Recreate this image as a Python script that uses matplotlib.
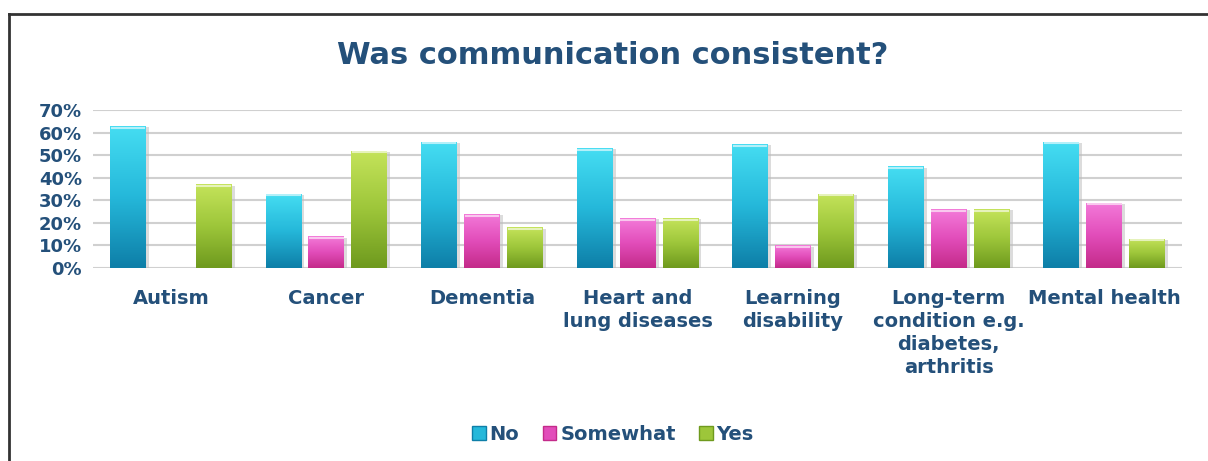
import numpy as np
import matplotlib.pyplot as plt
from matplotlib.lines import Line2D
from matplotlib.patches import Patch

# Data
categories = ["Autism", "Cancer", "Dementia", "Heart and\nlung diseases",
              "Learning\ndisability", "Long-term\ncondition e.g.\ndiabetes,\narthritis",
              "Mental health"]
series = ["No", "Somewhat", "Yes"]
no_vals = [63, 33, 56, 53, 55, 45, 56]
somewhat_vals = [0, 14, 24, 22, 10, 26, 29]
yes_vals = [37, 52, 18, 22, 33, 26, 13]
yticks = [0, 10, 20, 30, 40, 50, 60, 70]

text_color = "#24507A"
light = ["#45DDF2", "#F37AD9", "#C4E35A"]
dark = ["#0E7FA8", "#C42B8A", "#6F9A1E"]
base = ["#25B8DA", "#E24DBA", "#9DC63A"]

fig = plt.figure(figsize=(12.08, 4.61), dpi=100)
ax = fig.add_axes([93 / 1208, 1 - 268 / 461, (1182 - 93) / 1208, (268 - 110) / 461])

x = np.arange(len(categories))
width = 0.23
step = 0.276
values = [no_vals, somewhat_vals, yes_vals]

grad = np.linspace(0, 1, 64).reshape(-1, 1)
for i, vals in enumerate(values):
    bars = ax.bar(x + (i - 1) * step, vals, width, color=base[i], zorder=3)
    cmap = plt.matplotlib.colors.LinearSegmentedColormap.from_list(
        "g%d" % i, [dark[i], base[i], light[i]])
    for b in bars:
        h = b.get_height()
        if h <= 0:
            continue
        x0 = b.get_x()
        # shadow
        ax.add_patch(plt.Rectangle((x0 + 0.02, 0), b.get_width(), h - 0.5,
                                   color="#bbbbbb", alpha=0.5, zorder=2, lw=0))
        im = ax.imshow(grad, extent=(x0, x0 + b.get_width(), 0, h), origin="lower",
                       cmap=cmap, aspect="auto", zorder=4)
        im.set_clip_path(b)
        ax.plot([x0 + 0.01, x0 + b.get_width() - 0.01], [h - 0.8, h - 0.8],
                color="white", alpha=0.6, lw=1.5, zorder=5)

ax.set_xlim(-0.5, len(categories) - 0.5)
ax.set_ylim(0, 70)
ax.set_yticks(yticks)
ax.set_yticklabels(["%d%%" % v for v in yticks])
ax.set_xticks(x)
ax.set_xticklabels(categories, va="top")
ax.yaxis.grid(True, color="#d0d0d0", lw=1.5, zorder=0)
ax.set_axisbelow(True)
for s in ax.spines.values():
    s.set_visible(False)
ax.axhline(0, color="#d0d0d0", lw=2, zorder=1)
ax.tick_params(length=0)
for lab in ax.get_yticklabels():
    lab.set_fontsize(13)
    lab.set_fontweight("bold")
    lab.set_color(text_color)
ax.tick_params(axis="y", pad=8)
ax.tick_params(axis="x", pad=15)
for lab in ax.get_xticklabels():
    lab.set_fontsize(14)
    lab.set_fontweight("bold")
    lab.set_color(text_color)
    lab.set_linespacing(1.28)

fig.text(613 / 1208, 1 - 55 / 461, "Was communication consistent?", ha="center", va="center",
         fontsize=22, fontweight="bold", color=text_color)

handles = [Patch(facecolor=base[i], edgecolor=dark[i]) for i in range(3)]
fig.legend(handles, series, loc="center", bbox_to_anchor=(613 / 1208, 1 - 434 / 461),
           ncol=3, frameon=False, handlelength=0.7, handleheight=0.7, handletextpad=0.2,
           columnspacing=1.2, prop={"size": 14, "weight": "bold"}, labelcolor=text_color)

# outer frame
fig.add_artist(Line2D([9 / 1208, 9 / 1208], [0, 1 - 14 / 461], color="#333333", lw=2))
fig.add_artist(Line2D([9 / 1208, 1207 / 1208], [1 - 14 / 461, 1 - 14 / 461], color="#333333", lw=2))

fig.savefig("out.png", dpi=100)
